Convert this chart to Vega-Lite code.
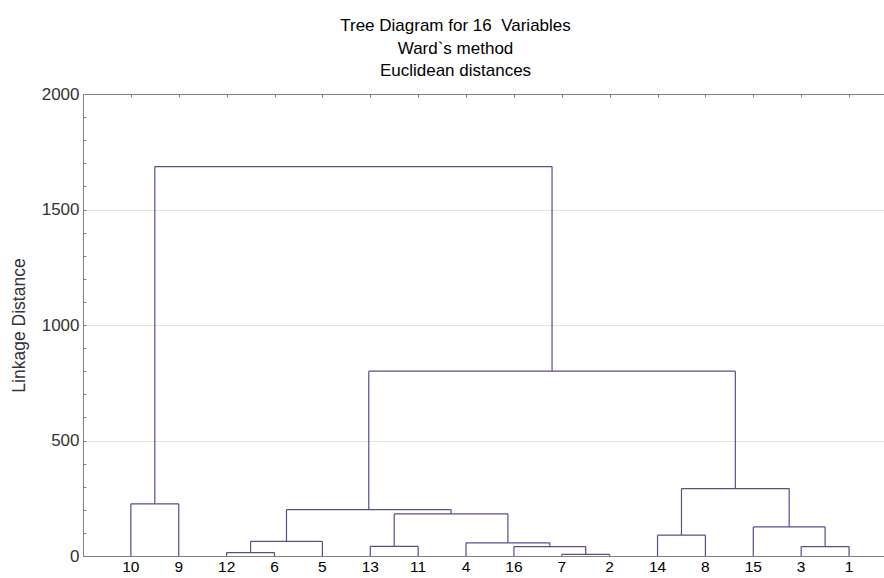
{
  "$schema": "https://vega.github.io/schema/vega-lite/v6.json",
  "width": 801,
  "height": 462,
  "autosize": {"type": "none"},
  "padding": {"left": 83, "top": 94, "right": 0, "bottom": 22},
  "background": "white",
  "title": {
    "text": ["Tree Diagram for 16\u00a0 Variables", "Ward`s method", "Euclidean distances"],
    "font": "Liberation Sans",
    "fontSize": 17,
    "fontWeight": "normal",
    "color": "#000000",
    "lineHeight": 22.5,
    "anchor": "middle",
    "frame": "group",
    "dx": -28,
    "offset": 5
  },
  "config": {
    "view": {"stroke": null},
    "axis": {"labelFont": "Liberation Sans", "titleFont": "Liberation Sans", "domainColor": "#808080", "tickColor": "#808080"}
  },
  "datasets": {
    "merges": [
      {"id": "A", "xl": 1, "xr": 2, "h": 226, "hl": 0, "hr": 0},
      {"id": "B", "xl": 3, "xr": 4, "h": 15, "hl": 0, "hr": 0},
      {"id": "C", "xl": 3.5, "xr": 5, "h": 63, "hl": 15, "hr": 0},
      {"id": "D", "xl": 6, "xr": 7, "h": 42, "hl": 0, "hr": 0},
      {"id": "E", "xl": 10, "xr": 11, "h": 7, "hl": 0, "hr": 0},
      {"id": "F", "xl": 9, "xr": 10.5, "h": 41, "hl": 0, "hr": 7},
      {"id": "G", "xl": 8, "xr": 9.75, "h": 57, "hl": 0, "hr": 41},
      {"id": "H", "xl": 6.5, "xr": 8.875, "h": 182, "hl": 42, "hr": 57},
      {"id": "I", "xl": 4.25, "xr": 7.6875, "h": 201, "hl": 63, "hr": 182},
      {"id": "J", "xl": 12, "xr": 13, "h": 90, "hl": 0, "hr": 0},
      {"id": "K", "xl": 15, "xr": 16, "h": 41, "hl": 0, "hr": 0},
      {"id": "L", "xl": 14, "xr": 15.5, "h": 126, "hl": 0, "hr": 41},
      {"id": "M", "xl": 12.5, "xr": 14.75, "h": 292, "hl": 90, "hr": 126},
      {"id": "N", "xl": 5.96875, "xr": 13.625, "h": 800, "hl": 201, "hr": 292},
      {"id": "O", "xl": 1.5, "xr": 9.796875, "h": 1686, "hl": 226, "hr": 800}
    ],
    "leaves": [
      {"pos": 1, "name": "10"}, {"pos": 2, "name": "9"}, {"pos": 3, "name": "12"}, {"pos": 4, "name": "6"},
      {"pos": 5, "name": "5"}, {"pos": 6, "name": "13"}, {"pos": 7, "name": "11"}, {"pos": 8, "name": "4"},
      {"pos": 9, "name": "16"}, {"pos": 10, "name": "7"}, {"pos": 11, "name": "2"}, {"pos": 12, "name": "14"},
      {"pos": 13, "name": "8"}, {"pos": 14, "name": "15"}, {"pos": 15, "name": "3"}, {"pos": 16, "name": "1"}
    ]
  },
  "layer": [
    {
      "data": {"name": "merges"},
      "mark": {"type": "rule", "color": "#50508f", "strokeWidth": 1.2},
      "encoding": {
        "x": {
          "field": "xl", "type": "quantitative",
          "scale": {"domain": [0, 16.73], "nice": false, "zero": false},
          "axis": {"orient": "bottom", "values": [1,2,3,4,5,6,7,8,9,10,11,12,13,14,15,16], "labels": false, "ticks": false, "grid": false, "title": null}
        },
        "x2": {"field": "xr"},
        "y": {
          "field": "h", "type": "quantitative",
          "scale": {"domain": [0, 2000], "nice": false},
          "axis": {
            "orient": "left",
            "values": [0,100,200,300,400,500,600,700,800,900,1000,1100,1200,1300,1400,1500,1600,1700,1800,1900,2000],
            "labelExpr": "datum.value % 500 === 0 ? datum.label : ''",
            "format": "d",
            "labelFontSize": 17,
            "labelColor": "#333333",
            "labelPadding": 7,
            "tickSize": -3,
            "grid": true,
            "gridColor": "#e3e3e3",
            "gridOpacity": {"condition": {"test": "datum.value % 500 === 0 && datum.value > 0 && datum.value < 2000", "value": 1}, "value": 0},
            "title": "Linkage Distance",
            "titleFontSize": 17.5,
            "titleFontWeight": "normal",
            "titleColor": "#333333",
            "titlePadding": 13
          }
        }
      }
    },
    {
      "data": {"name": "merges"},
      "mark": {"type": "rule", "color": "#50508f", "strokeWidth": 1.2},
      "encoding": {
        "x": {
          "field": "xl", "type": "quantitative",
          "axis": {"orient": "top", "values": [1,2,3,4,5,6,7,8,9,10,11,12,13,14,15,16], "labels": false, "ticks": true, "tickSize": -3, "grid": false, "title": null}
        },
        "y": {"field": "hl", "type": "quantitative", "axis": null},
        "y2": {"field": "h"}
      }
    },
    {
      "data": {"name": "merges"},
      "mark": {"type": "rule", "color": "#50508f", "strokeWidth": 1.2},
      "encoding": {
        "x": {"field": "xr", "type": "quantitative", "axis": null},
        "y": {"field": "hr", "type": "quantitative", "axis": null},
        "y2": {"field": "h"}
      }
    },
    {
      "data": {"name": "leaves"},
      "mark": {"type": "text", "font": "Liberation Sans", "fontSize": 15.5, "color": "#000000", "baseline": "top", "dy": 4},
      "encoding": {
        "x": {"field": "pos", "type": "quantitative", "axis": null},
        "y": {"datum": 0, "type": "quantitative", "axis": null},
        "text": {"field": "name"}
      }
    }
  ],
  "resolve": {"axis": {"x": "independent", "y": "independent"}}
}
